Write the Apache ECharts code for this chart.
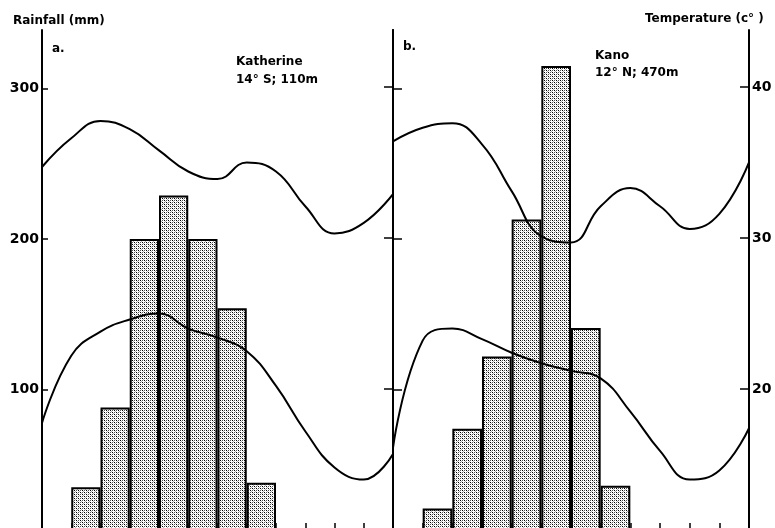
<!DOCTYPE html>
<html><head><meta charset="utf-8">
<script src="https://cdn.jsdelivr.net/npm/echarts@6/dist/echarts.min.js"></script>
<style>html,body{margin:0;padding:0;background:#fff}#c{width:775px;height:528px}</style>
</head><body><div id="c"></div>
<script>
// Months shown in each panel (panel a starts in September, panel b in March)
const monthsA = ['Sep','Oct','Nov','Dec','Jan','Feb','Mar','Apr','May','Jun','Jul','Aug'];
const monthsB = ['Mar','Apr','May','Jun','Jul','Aug','Sep','Oct','Nov','Dec','Jan','Feb'];
// Monthly rainfall (mm)
const rainA = [0,35,88,200,229,200,154,38,0,0,0,0];
const rainB = [0,21,74,122,213,315,141,36,0,0,0,0];
// Temperature curves, sampled at month positions (0 = left edge of panel, 12 = right edge)
const posA = [0,1,2,3,4,5,6,7,8,9,10,11,12];
const tMaxA = [34.7,36.6,37.75,37.2,35.8,34.4,33.9,35.0,34.4,32.1,30.3,31.0,32.9];
const tMinA = [17.75,22.2,23.8,24.6,25.0,24.0,23.4,22.5,20.2,17.2,14.8,14.0,15.7];
const posB = [0,1,2,3,4,5,6,7,8,9,10,11,12];
const tMaxB = [36.4,37.3,37.6,36.2,33.1,30.1,29.7,32.1,33.3,32.1,30.6,31.6,35.0];
const tMinB = [16.1,23.2,24.0,23.3,22.4,21.7,21.2,20.7,18.5,15.9,14.0,14.6,17.4];
// Tick labels
const rainTicks = [100,200,300];
const tempTicks = [20,30,40];

function makePattern(){
  const c = document.createElement('canvas'); c.width = 4; c.height = 4;
  const g = c.getContext('2d');
  g.fillStyle = '#fff'; g.fillRect(0,0,4,4);
  g.fillStyle = '#000';
  [[0,0],[2,2]].forEach(p => g.fillRect(p[0],p[1],1,1));
  g.fillStyle = '#555';
  [[2,0],[0,2]].forEach(p => g.fillRect(p[0],p[1],1,1));
  g.fillStyle = '#b0b0b0';
  [[1,1],[3,3]].forEach(p => g.fillRect(p[0],p[1],1,1));
  return c;
}
const pat = {image: makePattern(), repeat: 'repeat'};

const chart = echarts.init(document.getElementById('c'), null, {renderer:'canvas'});
const FONT = 'DejaVu Sans';
const lbl = {color:'#000', fontFamily:FONT, fontWeight:'bold', fontSize:14};
function xCat(gi, data){
  return {type:'category', gridIndex:gi, data:data, boundaryGap:true,
    axisLine:{show:false}, axisLabel:{show:false},
    axisTick:{show:true, inside:true, length:17, interval:0, lineStyle:{color:'#000', width:1.5}},
    splitLine:{show:false}};
}
function xVal(gi){
  return {type:'value', gridIndex:gi, min:0, max:12, show:false};
}
function yRain(gi, pos, showLabel, tickLen){
  return {type:'value', gridIndex:gi, position:pos, min:0, max:339, interval:100,
    axisLine:{show:true, lineStyle:{color:'#000', width:2}},
    axisTick:{show:true, inside:true, length:tickLen, customValues:rainTicks, lineStyle:{color:'#000', width:1.5}},
    axisLabel:Object.assign({show:showLabel, customValues:rainTicks, margin:3}, lbl),
    splitLine:{show:false}};
}
function yTemp(gi, pos, showLabel, tickLen){
  return {type:'value', gridIndex:gi, position:pos, min:10, max:43.77, interval:10,
    axisLine:{show:true, lineStyle:{color:'#000', width:2}},
    axisTick:{show:true, inside:true, length:tickLen, customValues:tempTicks, lineStyle:{color:'#000', width:1.5}},
    axisLabel:Object.assign({show:showLabel, customValues:tempTicks, margin:3}, lbl),
    splitLine:{show:false}};
}
function barS(xi, yi, data){
  return {type:'bar', xAxisIndex:xi, yAxisIndex:yi, data:data, barCategoryGap:'0%',
    itemStyle:{color:pat, borderColor:'#000', borderWidth:2}, z:2, silent:true};
}
function lineS(xi, yi, pos, vals){
  return {type:'line', xAxisIndex:xi, yAxisIndex:yi, data:pos.map((p,i)=>[p, vals[i]]),
    smooth:0.45, symbol:'none', lineStyle:{color:'#000', width:2}, z:5, silent:true};
}
function txt(x, y, s){
  return {type:'text', x:x, y:y, z:10,
    style:{text:s, fill:'#000', font:'bold 12px "DejaVu Sans"', verticalAlign:'middle', align:'left'}};
}
chart.setOption({
  animation:false,
  backgroundColor:'#fff',
  grid:[{left:42, top:30, width:351, height:510, outerBoundsMode:'none'},
        {left:393, top:30, width:356, height:510, outerBoundsMode:'none'}],
  xAxis:[xCat(0, monthsA), xCat(1, monthsB), xVal(0), xVal(1)],
  yAxis:[yRain(0,'left',true,6), yTemp(0,'right',false,9), yRain(1,'left',false,9), yTemp(1,'right',true,9)],
  series:[
    barS(0,0,rainA), barS(1,2,rainB),
    lineS(2,1,posA,tMaxA), lineS(2,1,posA,tMinA),
    lineS(3,3,posB,tMaxB), lineS(3,3,posB,tMinB)
  ],
  graphic:[
    txt(13, 21, 'Rainfall (mm)'),
    txt(645, 19, 'Temperature (c° )'),
    txt(52, 49, 'a.'),
    txt(403, 47, 'b.'),
    txt(236, 62, 'Katherine'),
    txt(236, 80, '14° S; 110m'),
    txt(595, 56, 'Kano'),
    txt(595, 73, '12° N; 470m')
  ]
});
</script></body></html>
